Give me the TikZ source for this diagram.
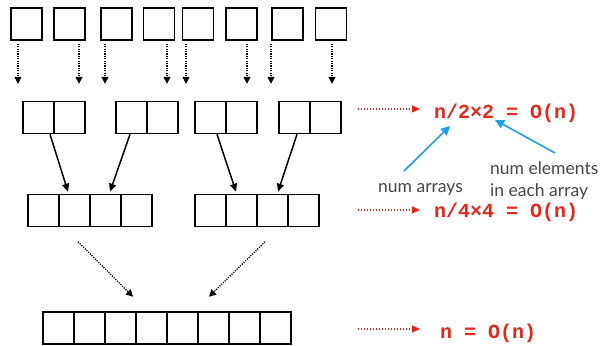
\documentclass[tikz,border=0pt]{standalone}
\usepackage{fontspec}
\setmonofont{Liberation Mono}
\setsansfont{Lato}
\usetikzlibrary{arrows.meta}
\definecolor{costred}{RGB}{232,38,24}
\definecolor{hintblue}{RGB}{30,160,240}
\definecolor{hintgray}{RGB}{70,70,70}
\begin{document}
\begin{tikzpicture}[x=1pt,y=1pt,
					cell/.style={shape=rectangle, draw, line width=1.6pt, minimum width=31pt, minimum height=32pt, inner sep=0},
					dotarrow/.style={line width=1.3pt, dash pattern=on 1.2pt off 1.2pt, -{Triangle[length=7pt,width=7pt]}},
					solidarrow/.style={line width=1.5pt, -{Triangle[length=8pt,width=7pt]}},
					redarrow/.style={costred, line width=1.2pt, dash pattern=on 1.2pt off 1.8pt, -{Triangle[length=8pt,width=7pt]}},
					bluearrow/.style={hintblue, line width=1.6pt, -{Triangle[length=9pt,width=9pt]}},
					cost/.style={costred, anchor=base west, inner sep=0, font=\fontsize{20}{24}\selectfont\ttfamily\bfseries},
					hint/.style={hintgray, anchor=base west, inner sep=0, font=\fontsize{17.5}{22}\selectfont\sffamily}
					]
	\useasboundingbox (0,0) rectangle (607,345);

	%top row: single elements-----------------------------------
	\node[cell] (t1) at (26.5,321) {}; \node[cell] (t2) at (69.5,321) {};
	\node[cell] (t3) at (116.5,321) {}; \node[cell] (t4) at (159,321) {};
	\node[cell] (t5) at (198,321) {}; \node[cell] (t6) at (241.5,321) {};
	\node[cell] (t7) at (287.5,321) {}; \node[cell] (t8) at (331,321) {};

	%pairs-------------------------------------------------------
	\node[cell] (p1) at (38.5,227.5) {}; \node[cell] (p2) at (69.5,227.5) {};
	\node[cell] (p3) at (131.5,227.5) {}; \node[cell] (p4) at (162.5,227.5) {};
	\node[cell] (p5) at (210.5,227.5) {}; \node[cell] (p6) at (241.5,227.5) {};
	\node[cell] (p7) at (294.5,227.5) {}; \node[cell] (p8) at (325.5,227.5) {};

	%arrays of four----------------------------------------------
	\node[cell] (l1) at (43.5,134.5) {}; \node[cell] (l2) at (74.5,134.5) {};
	\node[cell] (l3) at (105.5,134.5) {}; \node[cell] (l4) at (136.5,134.5) {};
	\node[cell] (r1) at (210.5,134.5) {}; \node[cell] (r2) at (241.5,134.5) {};
	\node[cell] (r3) at (272.5,134.5) {}; \node[cell] (r4) at (303.5,134.5) {};

	%full array--------------------------------------------------
	\node[cell] (b1) at (58.5,17) {}; \node[cell] (b2) at (89.5,17) {};
	\node[cell] (b3) at (120.5,17) {}; \node[cell] (b4) at (151.5,17) {};
	\node[cell] (b5) at (182.5,17) {}; \node[cell] (b6) at (213.5,17) {};
	\node[cell] (b7) at (244.5,17) {}; \node[cell] (b8) at (275.5,17) {};

	%merge arrows------------------------------------------------
	\draw[dotarrow] ([xshift=-8.5pt,yshift=-3pt]t1.south) -- ++(0,-40); %t1
	\draw[dotarrow] ([xshift=9.5pt,yshift=-3pt]t2.south) -- ++(0,-40); %t2
	\draw[dotarrow] ([xshift=-11.5pt,yshift=-3pt]t3.south) -- ++(0,-40); %t3
	\draw[dotarrow] ([xshift=8pt,yshift=-3pt]t4.south) -- ++(0,-40); %t4
	\draw[dotarrow] ([xshift=-12pt,yshift=-3pt]t5.south) -- ++(0,-40); %t5
	\draw[dotarrow] ([xshift=5.5pt,yshift=-3pt]t6.south) -- ++(0,-40); %t6
	\draw[dotarrow] ([xshift=-16.5pt,yshift=-3pt]t7.south) -- ++(0,-40); %t7
	\draw[dotarrow] ([xshift=1pt,yshift=-3pt]t8.south) -- ++(0,-40); %t8

	\draw[solidarrow] ([xshift=11.5pt]p1.south) -- ([xshift=-6.5pt,yshift=2pt]l2.north); %pair 1
	\draw[solidarrow] ([xshift=-1.5pt]p3.south) -- ([xshift=4.5pt,yshift=2pt]l3.north); %pair 2
	\draw[solidarrow] ([xshift=6.5pt]p5.south) -- ([xshift=-5.5pt,yshift=2pt]r2.north); %pair 3
	\draw[solidarrow] ([xshift=2.5pt]p7.south) -- ([xshift=5.5pt,yshift=2pt]r3.north); %pair 4

	\draw[dotarrow] ([xshift=3.5pt,yshift=-14.5pt]l2.south) -- ([xshift=12.5pt,yshift=14.5pt]b3.north); %left four
	\draw[dotarrow] ([xshift=-7.5pt,yshift=-14.5pt]r3.south) -- ([xshift=-4.5pt,yshift=14.5pt]b6.north); %right four

	%costs-------------------------------------------------------
	\node[cost] (c1) at (434,226) {n/2×2 = O(n)}; %pairs cost
	\node[cost] (c2) at (434,127) {n/4×4 = O(n)}; %fours cost
	\node[cost] (c3) at (440,7) {n = O(n)}; %full cost
	\draw[redarrow] (358,236) -- (420,236); %row 2
	\draw[redarrow] (358,135) -- (420,135); %row 3
	\draw[redarrow] (358,16) -- (420,16); %row 4

	%hints-------------------------------------------------------
	\node[hint] (h1) at (378,152) {num arrays}; %arrays hint
	\node[hint] (h2) at (490,170) {num elements}; %elements hint
	\node[hint] (h3) at (490,148) {in each array}; %elements hint, 2nd line
	\coordinate (h1tip) at (450,219);
	\coordinate (h2tip) at (495,225);
	\draw[bluearrow] (404,174) -- (h1tip); %to n/2
	\draw[bluearrow] (555,192) -- (h2tip); %to 2
\end{tikzpicture}
\end{document}
